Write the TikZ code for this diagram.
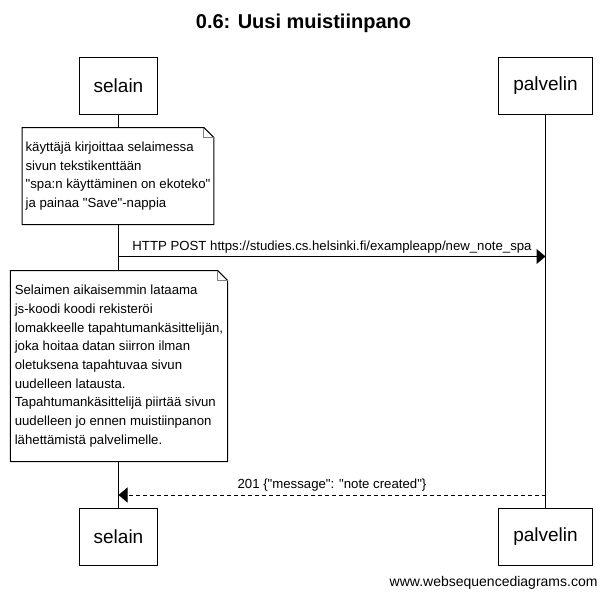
\documentclass[tikz,border=0pt]{standalone}
\usepackage{fontspec}
\setmainfont{Liberation Sans}[Ligatures=TeXOff]
\usetikzlibrary{arrows.meta}
\newcommand{\msgsize}   {\fontsize{13.2}{18.5}\selectfont}
\newcommand{\notefold}[1]{%
  \draw ([xshift=-10pt]#1.north east) -- (#1.north west) -- (#1.south west)
        -- (#1.south east) -- ([yshift=-10pt]#1.north east) -- cycle;
  \draw[gray] ([xshift=-10pt]#1.north east) -- ([xshift=-10pt,yshift=-10pt]#1.north east)
        -- ([yshift=-10pt]#1.north east);}

\begin{document}
\begin{tikzpicture}[x=1pt,y=-1pt,line width=1pt,
    actor/.style={draw,fill=white,minimum height=57pt,inner xsep=14.5pt,font=\fontsize{19}{22}\selectfont},
    note/.style={fill=white,align=left,font=\msgsize},
    msg/.style={-{Triangle[length=9pt,width=15pt]}},
    reply/.style={msg,dash pattern=on 4pt off 3pt},
    msglabel/.style={above=3pt,inner sep=0pt,font=\msgsize}]
    \useasboundingbox (0,0) rectangle (607,599);
    \node[font=\bfseries\fontsize{20}{24}\selectfont] (title) at (303.5,23) {0.6: Uusi muistiinpano};
    \node[actor] (selainTop)   at (118.5,86)  {selain};
    \node[actor] (palvelinTop) at (545.5,86)  {palvelin};
    \node[actor] (selainBot)   at (118.5,537) {selain};
    \node[actor] (palvelinBot) at (545.5,537) {palvelin};
    \draw (selainTop) -- (selainBot);
    \draw (palvelinTop) -- (palvelinBot);
    \node[note,inner xsep=3pt,minimum height=96pt] (noteWrite) at (118,176)
        {käyttäjä kirjoittaa selaimessa\\ sivun tekstikenttään\\
         "spa:n käyttäminen on ekoteko"\\ ja painaa "Save"-nappia};
    \notefold{noteWrite}
    \coordinate (postFrom) at (118.5,256.5);
    \coordinate (postTo)   at (545.5,256.5);
    \draw[msg] (postFrom) -- node[msglabel]
        {HTTP POST https://studies.cs.helsinki.fi/exampleapp/new\_note\_spa} (postTo);
    \node[note,inner xsep=4pt,minimum height=190pt,font=\fontsize{13.2}{18.7}\selectfont] (noteHandler) at (119,366)
        {Selaimen aikaisemmin lataama\\ js-koodi koodi rekisteröi\\
         lomakkeelle tapahtumankäsittelijän,\\ joka hoitaa datan siirron ilman\\
         oletuksena tapahtuvaa sivun\\ uudelleen latausta.\\
         Tapahtumankäsittelijä piirtää sivun\\ uudelleen jo ennen muistiinpanon\\
         lähettämistä palvelimelle.};
    \notefold{noteHandler}
    \coordinate (replyFrom) at (545.5,495);
    \coordinate (replyTo)   at (118.5,495);
    \draw[reply] (replyFrom) -- node[msglabel] {201 \{"message": "note created"\}} (replyTo);
    \node[anchor=east,inner sep=0pt,font=\fontsize{14}{16}\selectfont] (footer) at (598,583) {www.websequencediagrams.com};
\end{tikzpicture}
\end{document}
